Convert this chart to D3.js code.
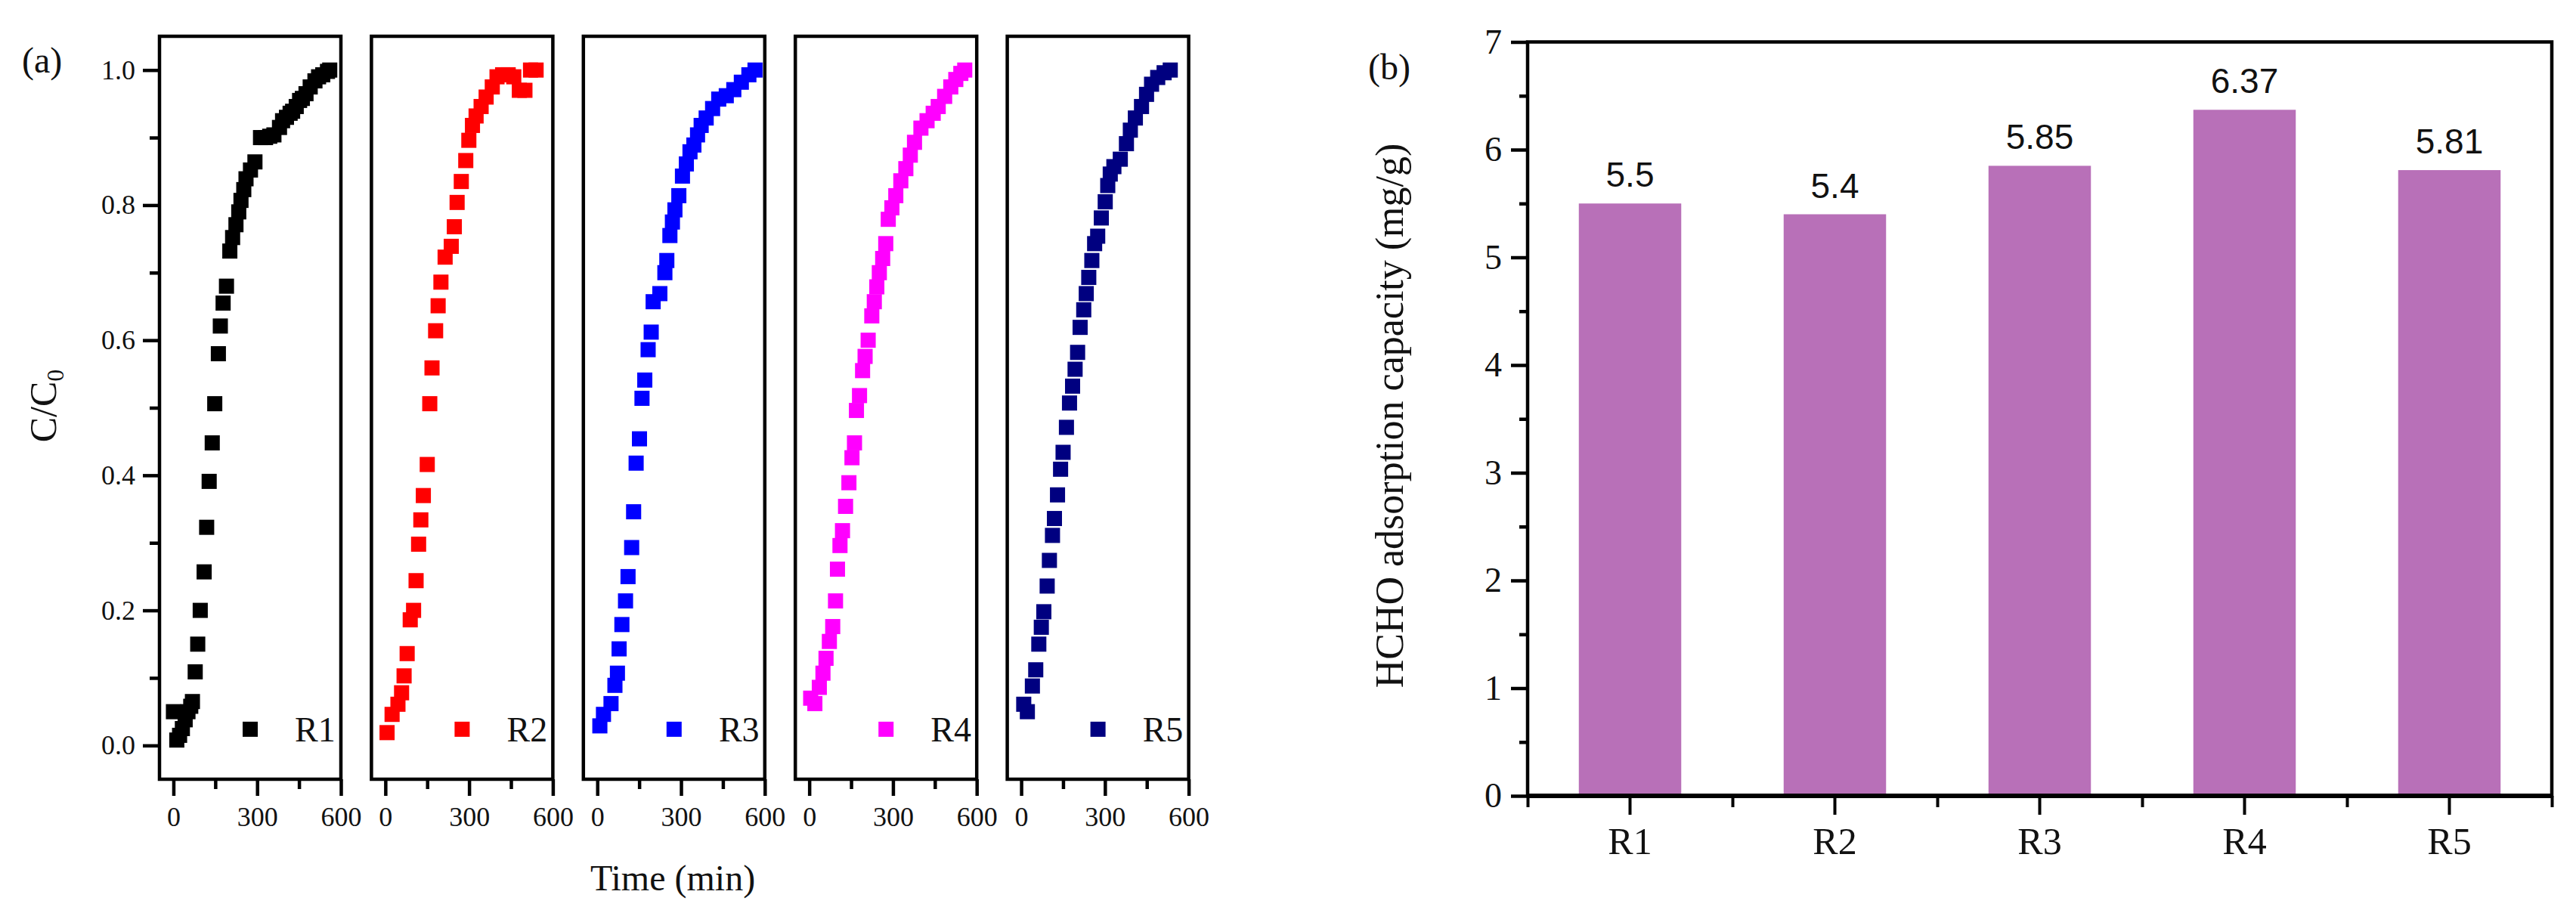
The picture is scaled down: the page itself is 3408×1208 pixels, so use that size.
<!DOCTYPE html>
<html>
<head>
<meta charset="utf-8">
<script src="https://cdn.jsdelivr.net/npm/d3@7"></script>
<style>
  body { margin: 0; background: #fff; }
  svg { display: block; }
  text { font-family: "Liberation Serif", "Times New Roman", serif; fill: #111; }
</style>
</head>
<body>
<svg id="chart"></svg>
<script>

// ---- data ----
var runNames = ["R1", "R2", "R3", "R4", "R5"];

var r1Time  = [0, 12, 22, 32, 42, 52, 62, 68, 78, 87, 96, 110, 119, 128, 139, 148, 161, 168, 178, 190, 202, 212, 224, 234, 242, 252, 260, 276, 292, 312, 330, 345, 360, 380, 391, 405, 418, 427, 440, 452, 462, 475, 490, 507, 520, 535, 552, 560];
var r1Ratio = [0.05, 0.008, 0.015, 0.025, 0.038, 0.05, 0.058, 0.065, 0.109, 0.150, 0.200, 0.257, 0.323, 0.391, 0.448, 0.506, 0.580, 0.621, 0.655, 0.680, 0.732, 0.752, 0.771, 0.790, 0.807, 0.823, 0.839, 0.852, 0.864, 0.900, 0.900, 0.902, 0.904, 0.915, 0.925, 0.930, 0.936, 0.939, 0.946, 0.955, 0.958, 0.965, 0.975, 0.984, 0.990, 0.993, 0.998, 1.0];

var r2Time  = [6, 24, 45, 58, 67, 78, 89, 101, 110, 119, 127, 136, 150, 159, 167, 180, 189, 199, 214, 236, 247, 257, 272, 288, 299, 312, 325, 343, 361, 383, 400, 420, 440, 460, 480, 500, 520, 540];
var r2Ratio = [0.019, 0.046, 0.061, 0.078, 0.103, 0.136, 0.186, 0.200, 0.244, 0.298, 0.334, 0.370, 0.416, 0.506, 0.559, 0.614, 0.651, 0.686, 0.723, 0.739, 0.768, 0.804, 0.835, 0.866, 0.896, 0.918, 0.932, 0.946, 0.960, 0.975, 0.990, 0.993, 0.993, 0.990, 0.970, 0.970, 1.0, 1.0];

var r3Time  = [9, 22, 49, 63, 72, 78, 88, 101, 110, 123, 130, 139, 151, 160, 170, 182, 193, 200, 224, 242, 249, 260, 269, 278, 292, 305, 319, 332, 346, 359, 372, 390, 413, 435, 462, 489, 516, 543, 565];
var r3Ratio = [0.029, 0.046, 0.062, 0.089, 0.107, 0.143, 0.179, 0.214, 0.250, 0.293, 0.346, 0.418, 0.454, 0.514, 0.541, 0.586, 0.612, 0.657, 0.669, 0.700, 0.718, 0.755, 0.775, 0.793, 0.814, 0.843, 0.861, 0.879, 0.889, 0.904, 0.918, 0.929, 0.943, 0.957, 0.962, 0.971, 0.982, 0.993, 1.0];

var r4Time  = [5, 20, 36, 49, 60, 72, 84, 94, 101, 110, 119, 130, 142, 153, 162, 169, 180, 191, 200, 211, 224, 233, 242, 251, 263, 274, 283, 296, 310, 328, 346, 362, 377, 400, 422, 444, 462, 485, 507, 525, 543, 557];
var r4Ratio = [0.070, 0.062, 0.086, 0.107, 0.129, 0.154, 0.176, 0.214, 0.261, 0.296, 0.318, 0.354, 0.389, 0.426, 0.448, 0.496, 0.518, 0.555, 0.576, 0.600, 0.636, 0.657, 0.679, 0.700, 0.721, 0.743, 0.779, 0.796, 0.814, 0.836, 0.854, 0.874, 0.893, 0.914, 0.925, 0.936, 0.946, 0.961, 0.975, 0.986, 0.995, 1.0];

var r5Time  = [9, 22, 40, 52, 63, 72, 81, 93, 101, 112, 119, 130, 141, 150, 162, 173, 184, 193, 202, 211, 224, 233, 242, 253, 263, 274, 287, 301, 310, 319, 332, 355, 377, 391, 409, 431, 449, 467, 489, 512, 534];
var r5Ratio = [0.061, 0.050, 0.088, 0.112, 0.150, 0.175, 0.198, 0.236, 0.274, 0.311, 0.336, 0.371, 0.409, 0.434, 0.471, 0.507, 0.532, 0.557, 0.582, 0.619, 0.645, 0.669, 0.693, 0.718, 0.743, 0.754, 0.781, 0.805, 0.829, 0.846, 0.857, 0.868, 0.891, 0.911, 0.929, 0.946, 0.964, 0.979, 0.989, 0.996, 1.0];

var runTimes  = [r1Time, r2Time, r3Time, r4Time, r5Time];
var runRatios = [r1Ratio, r2Ratio, r3Ratio, r4Ratio, r5Ratio];
var runColors = ["#000000", "#ff0000", "#0000ff", "#ff00ff", "#000080"];

var timeTicks = [0, 300, 600];
var timeMinor = [150, 450];
var ratioTicks = [0, 0.2, 0.4, 0.6, 0.8, 1.0];
var ratioMinor = [0.1, 0.3, 0.5, 0.7, 0.9];

var capacity = [5.5, 5.4, 5.85, 6.37, 5.81];
var capacityLabels = ["5.5", "5.4", "5.85", "6.37", "5.81"];
var capTicks = [0, 1, 2, 3, 4, 5, 6, 7];
var capMinor = [0.5, 1.5, 2.5, 3.5, 4.5, 5.5, 6.5];

// ---- setup ----
var width = 3408, height = 1208;
var svg = d3.select("#chart").attr("width", width).attr("height", height);

function styleAxis(g, fontSize, sw) {
  g.select(".domain").remove();
  g.selectAll(".tick line").attr("stroke", "#000").attr("stroke-width", sw);
  g.selectAll(".tick text")
    .attr("fill", "#111")
    .style("font-family", '"Liberation Serif", "Times New Roman", serif')
    .style("font-size", fontSize + "px");
}

// ---- panel (a): five small breakthrough plots ----
var panelLeft = 211, panelStep = 280.4, panelWidth = 240;
var panelTop = 48, panelBottom = 1031;

var yA = d3.scaleLinear().domain([-0.05, 1.05]).range([panelBottom, panelTop]);

runNames.forEach(function(name, i) {
  var x0 = panelLeft + i * panelStep;
  var xA = d3.scaleLinear().domain([-50, 600]).range([x0, x0 + panelWidth]);
  var g = svg.append("g");

  g.selectAll("rect.pt")
    .data(d3.zip(runTimes[i], runRatios[i]))
    .enter().append("rect")
      .attr("class", "pt")
      .attr("x", d => xA(d[0]) - 10)
      .attr("y", d => yA(d[1]) - 10)
      .attr("width", 20)
      .attr("height", 20)
      .attr("fill", runColors[i]);

  // legend
  g.append("rect")
    .attr("x", xA(275) - 10)
    .attr("y", yA(0.024) - 10)
    .attr("width", 20)
    .attr("height", 20)
    .attr("fill", runColors[i]);

  g.append("text")
    .attr("x", xA(435))
    .attr("y", yA(0.024) + 16)
    .style("font-size", "46px")
    .text(name);

  g.append("rect")
    .attr("x", x0)
    .attr("y", panelTop)
    .attr("width", panelWidth)
    .attr("height", panelBottom - panelTop)
    .attr("fill", "none")
    .attr("stroke", "#000")
    .attr("stroke-width", 4.5);

  g.append("g")
    .attr("transform", "translate(0," + panelBottom + ")")
    .call(d3.axisBottom(xA).tickValues(timeTicks).tickSize(22).tickPadding(14).tickFormat(d3.format("d")))
    .call(a => styleAxis(a, 36, 4.5));

  g.append("g")
    .attr("transform", "translate(0," + panelBottom + ")")
    .call(d3.axisBottom(xA).tickValues(timeMinor).tickSize(13).tickFormat(""))
    .call(a => styleAxis(a, 36, 4.5));

  if (i == 0) {
    g.append("g")
      .attr("transform", "translate(" + x0 + ",0)")
      .call(d3.axisLeft(yA).tickValues(ratioTicks).tickSize(22).tickPadding(10).tickFormat(d3.format(".1f")))
      .call(a => styleAxis(a, 36, 4.5));

    g.append("g")
      .attr("transform", "translate(" + x0 + ",0)")
      .call(d3.axisLeft(yA).tickValues(ratioMinor).tickSize(13).tickFormat(""))
      .call(a => styleAxis(a, 36, 4.5));
  }
});

svg.append("text")
  .attr("x", 29)
  .attr("y", 96)
  .style("font-size", "48px")
  .text("(a)");

var yTitleA = svg.append("text")
  .attr("transform", "translate(74,537) rotate(-90)")
  .style("text-anchor", "middle")
  .style("font-size", "50px");
yTitleA.append("tspan").text("C/C");
yTitleA.append("tspan").attr("dy", "0.3em").style("font-size", "32px").text("0");

svg.append("text")
  .attr("x", 890)
  .attr("y", 1178)
  .style("text-anchor", "middle")
  .style("font-size", "48px")
  .text("Time (min)");

// ---- panel (b): adsorption capacity bars ----
var bLeft = 2021, bRight = 3376, bTop = 55.5, bBottom = 1053;

var yB = d3.scaleLinear().domain([0, 7]).range([bBottom, bTop]);
var xB = d3.scaleBand().domain(runNames).range([bLeft, bRight]).paddingInner(0.5).paddingOuter(0.25);
var xEdges = d3.scaleLinear().domain([0, runNames.length]).range([bLeft, bRight]);

var gb = svg.append("g");

gb.selectAll("rect.bar")
  .data(capacity)
  .enter().append("rect")
    .attr("class", "bar")
    .attr("x", (d, i) => xB(runNames[i]))
    .attr("y", d => yB(d))
    .attr("width", xB.bandwidth())
    .attr("height", d => bBottom - yB(d))
    .attr("fill", "#b870b8");

gb.selectAll("text.val")
  .data(capacity)
  .enter().append("text")
    .attr("class", "val")
    .attr("x", (d, i) => xB(runNames[i]) + xB.bandwidth() / 2)
    .attr("y", d => yB(d) - 22)
    .style("text-anchor", "middle")
    .style("font-family", '"Liberation Sans", Arial, sans-serif')
    .style("font-size", "46px")
    .text((d, i) => capacityLabels[i]);

gb.append("rect")
  .attr("x", bLeft)
  .attr("y", bTop)
  .attr("width", bRight - bLeft)
  .attr("height", bBottom - bTop)
  .attr("fill", "none")
  .attr("stroke", "#000")
  .attr("stroke-width", 4.5);

gb.append("line")
  .attr("x1", bLeft)
  .attr("x2", bRight)
  .attr("y1", bBottom)
  .attr("y2", bBottom)
  .attr("stroke", "#000")
  .attr("stroke-width", 6);

gb.append("g")
  .attr("transform", "translate(" + bLeft + ",0)")
  .call(d3.axisLeft(yB).tickValues(capTicks).tickSize(22).tickPadding(12).tickFormat(d3.format("d")))
  .call(a => styleAxis(a, 46, 4.5));

gb.append("g")
  .attr("transform", "translate(" + bLeft + ",0)")
  .call(d3.axisLeft(yB).tickValues(capMinor).tickSize(11).tickFormat(""))
  .call(a => styleAxis(a, 46, 4.5));

gb.append("g")
  .attr("transform", "translate(0," + bBottom + ")")
  .call(d3.axisBottom(xB).tickSize(25).tickPadding(16))
  .call(a => styleAxis(a, 50, 4));

gb.append("g")
  .attr("transform", "translate(0," + bBottom + ")")
  .call(d3.axisBottom(xEdges).ticks(runNames.length).tickSize(15).tickFormat(""))
  .call(a => styleAxis(a, 50, 4));

svg.append("text")
  .attr("x", 1810)
  .attr("y", 105)
  .style("font-size", "48px")
  .text("(b)");

svg.append("text")
  .attr("transform", "translate(1856,550) rotate(-90)")
  .style("text-anchor", "middle")
  .style("font-size", "52px")
  .text("HCHO adsorption capacity (mg/g)");

</script>
</body>
</html>
